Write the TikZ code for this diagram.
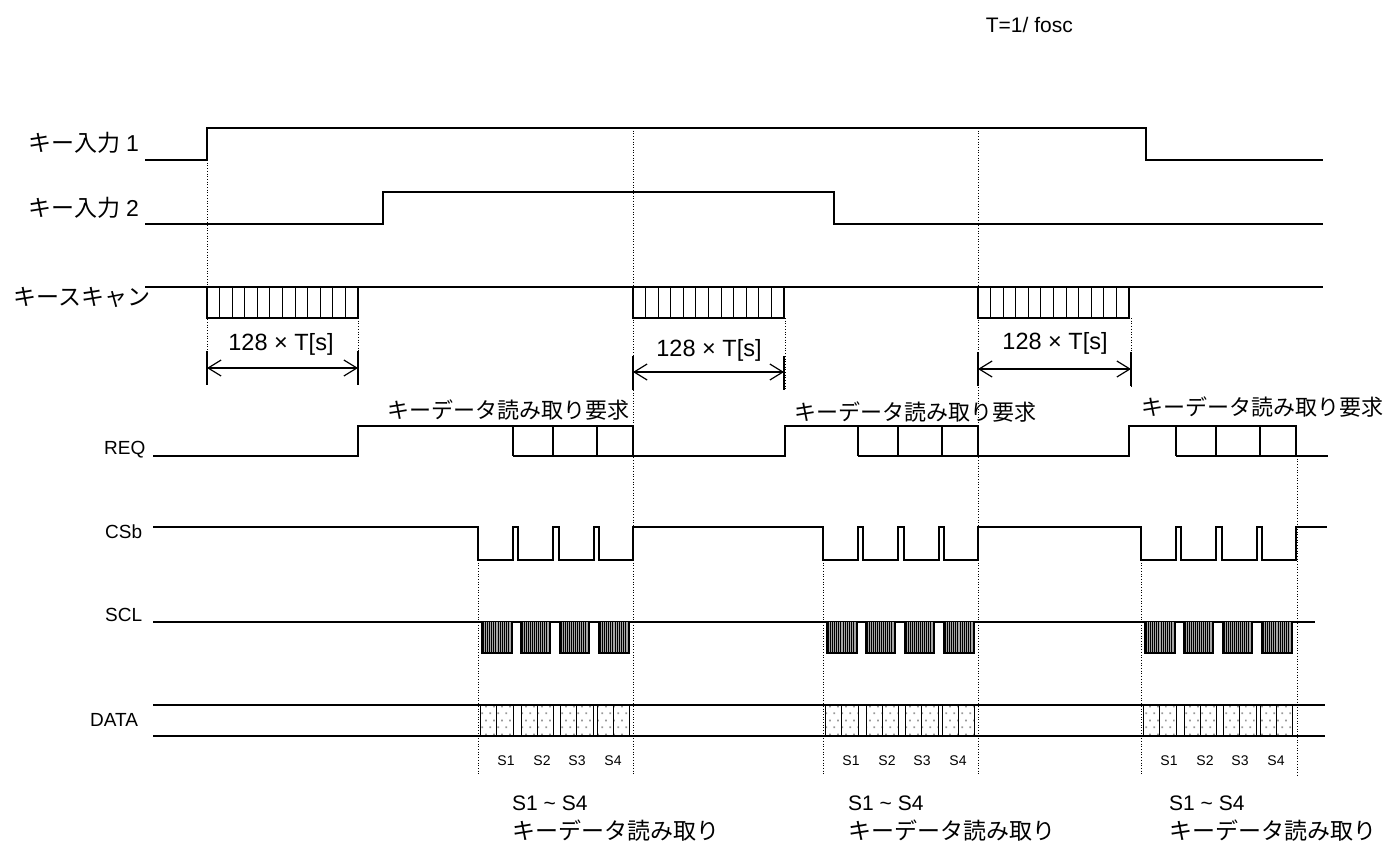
\documentclass[tikz,border=0pt]{standalone}
\usepackage{fontspec}
\setmainfont{Liberation Sans}
\newfontfamily\jp{Noto Sans CJK JP}
\usetikzlibrary{arrows.meta,patterns.meta}

\tikzdeclarepattern{
  name=sdots, type=uncolored,
  bounding box={(0pt,0pt) and (8pt,14pt)},
  tile size={(8pt,14pt)},
  code={
    \pgfpathrectangle{\pgfpoint{1.5pt}{2pt}}{\pgfpoint{1.8pt}{1.8pt}}
    \pgfpathrectangle{\pgfpoint{5.5pt}{9pt}}{\pgfpoint{1.8pt}{1.8pt}}
    \pgfusepath{fill}
  }
}

\begin{document}
\begin{tikzpicture}[x=1pt,y=-1pt,
  sig/.style={line width=1.3pt, line join=miter},
  thin sig/.style={line width=1.1pt},
  guide/.style={line width=0.9pt, dash pattern=on 0.9pt off 1.8pt},
  dimarrow/.style={line width=1.2pt,
    {Straight Barb[length=13pt,width=16pt]}-{Straight Barb[length=13pt,width=16pt]}},
  jlbl/.style={font=\jp\fontsize{23}{27}\selectfont, inner sep=0pt},
  llbl/.style={font=\fontsize{19}{22}\selectfont, inner sep=0pt, anchor=west},
  dimlbl/.style={font=\fontsize{23.5}{27}\selectfont, inner sep=0pt},
  reqlbl/.style={font=\jp\fontsize{22}{26}\selectfont, inner sep=0pt},
  slbl/.style={font=\fontsize{14}{16}\selectfont, inner sep=0pt},
  botlbl/.style={font=\fontsize{21}{24}\selectfont, inner sep=0pt, anchor=west},
  botjlbl/.style={font=\jp\fontsize{23}{27}\selectfont, inner sep=0pt, anchor=west}
]
\useasboundingbox (0,0) rectangle (1394,841);

% title
\node[font=\fontsize{21}{24}\selectfont, inner sep=0pt, anchor=base east] (tt) at (1073,32) {T=1/ fosc};

% signal names
\node[jlbl, anchor=east] (k1) at (139,143) {キー入力 {\fontspec{Liberation Sans}1}};
\node[jlbl, anchor=east] (k2) at (139,208) {キー入力 {\fontspec{Liberation Sans}2}};
\node[jlbl, anchor=east] (ks) at (151,297) {キースキャン};
\node[llbl] (req) at (104,450) {REQ};
\node[llbl] (csb) at (105,532) {CSb};
\node[llbl] (scl) at (105,615) {SCL};
\node[llbl] (data) at (90,720) {DATA};

% dotted guides
\draw[guide] (207,160) -- (207,385);
\draw[guide] (358,318) -- (358,385);
\draw[guide] (633,128) -- (633,775);
\draw[guide] (785,318) -- (785,390);
\draw[guide] (978,128) -- (978,775);
\draw[guide] (1131,318) -- (1131,388);
\draw[guide] (478,560) -- (478,775);
\draw[guide] (823,560) -- (823,775);
\draw[guide] (1141,560) -- (1141,775);
\draw[guide] (1297,456) -- (1297,775);

% key inputs
\draw[sig] (145,160) -- (207,160) -- (207,128) -- (1146,128) -- (1146,160) -- (1323,160);
\draw[sig] (145,224) -- (383,224) -- (383,192) -- (834,192) -- (834,224) -- (1323,224);

% key scan
\draw[sig] (145,287) -- (1323,287);
\foreach \a in {207,633,978}{
  \draw[thin sig] (\a,287) rectangle ({\a+151},318);
  \foreach \i in {1,...,11}{
    \draw[thin sig] ({\a+\i*151/12},287) -- ({\a+\i*151/12},318);
  }
}

% dimension arrows
\draw[line width=1.2pt] (207,351) -- (207,385) (358,351) -- (358,385);
\draw[dimarrow] (207,368) -- (358,368);
\node[dimlbl] (d1) at (281,344) {128 × T[s]};
\draw[line width=1.2pt] (633,356) -- (633,390) (784,356) -- (784,390);
\draw[dimarrow] (633,372) -- (784,372);
\node[dimlbl] (d2) at (709,350) {128 × T[s]};
\draw[line width=1.2pt] (978,352) -- (978,386) (1131,352) -- (1131,386);
\draw[dimarrow] (978,369) -- (1131,369);
\node[dimlbl] (d3) at (1055,343) {128 × T[s]};

% REQ
\draw[sig] (153,456) foreach \r/\g in {358/0,785/345,1129/663}{
   -- (\r,456) -- (\r,426) -- ({633+\g},426) -- ({633+\g},456) } -- (1328,456);
\foreach \g in {0,345,663}{
  \draw[sig] ({513+\g},456) -- ({633+\g},456);
  \foreach \v in {513,553,597}{
    \draw[sig] ({\v+\g},426) -- ({\v+\g},456);
  }
}
\node[reqlbl] (rq1) at (508,410) {キーデータ読み取り要求};
\node[reqlbl] (rq2) at (915,412) {キーデータ読み取り要求};
\node[reqlbl] (rq3) at (1262,407) {キーデータ読み取り要求};

% CSb
\draw[sig] (153,527) foreach \g in {0,345,663}{
  -- ({478+\g},527) -- ({478+\g},560) -- ({513+\g},560) -- ({513+\g},527)
  -- ({518+\g},527) -- ({518+\g},560) -- ({553+\g},560) -- ({553+\g},527)
  -- ({559+\g},527) -- ({559+\g},560) -- ({594+\g},560) -- ({594+\g},527)
  -- ({599+\g},527) -- ({599+\g},560) -- ({633+\g},560) -- ({633+\g},527)
} -- (1327,527);

% SCL
\draw[sig] (153,622) -- (1315,622);
\foreach \g in {0,345,663}{
  \foreach \a/\b in {482/512,521/550,560/589,599/629}{
    \fill[gray!70] ({\a+\g},622) rectangle ({\b+\g},653);
    \foreach \k in {0,...,13}{
      \draw[line width=1pt] ({\a+\g+1+\k*(\b-\a-2)/13},622) -- ++(0,31);
    }
    \draw[sig] ({\a+\g},622) -- ({\a+\g},653) -- ({\b+\g},653) -- ({\b+\g},622);
  }
}

% DATA
\foreach \g in {0,345,663}{
  \foreach \a/\b in {480/496,496/513,521/537,537/553,560/576,576/593,597/613,613/629}{
    \fill[pattern=sdots, pattern color=gray!80] ({\a+\g},705) rectangle ({\b+\g},736);
    \draw[line width=1pt] ({\a+\g},705) -- ({\a+\g},736) ({\b+\g},705) -- ({\b+\g},736);
  }
  \node[slbl] at ({506+\g},761) {S1};
  \node[slbl] at ({542+\g},761) {S2};
  \node[slbl] at ({577+\g},761) {S3};
  \node[slbl] at ({613+\g},761) {S4};
}
\draw[sig] (153,705) -- (1325,705);
\draw[sig] (153,736) -- (1325,736);

% bottom notes
\node[botlbl] (b1a) at (512,803) {S1 \textasciitilde\ S4};
\node[botjlbl] (b1b) at (512,831) {キーデータ読み取り};
\node[botlbl] (b2a) at (848,803) {S1 \textasciitilde\ S4};
\node[botjlbl] (b2b) at (848,831) {キーデータ読み取り};
\node[botlbl] (b3a) at (1169,803) {S1 \textasciitilde\ S4};
\node[botjlbl] (b3b) at (1169,831) {キーデータ読み取り};
\end{tikzpicture}
\end{document}
